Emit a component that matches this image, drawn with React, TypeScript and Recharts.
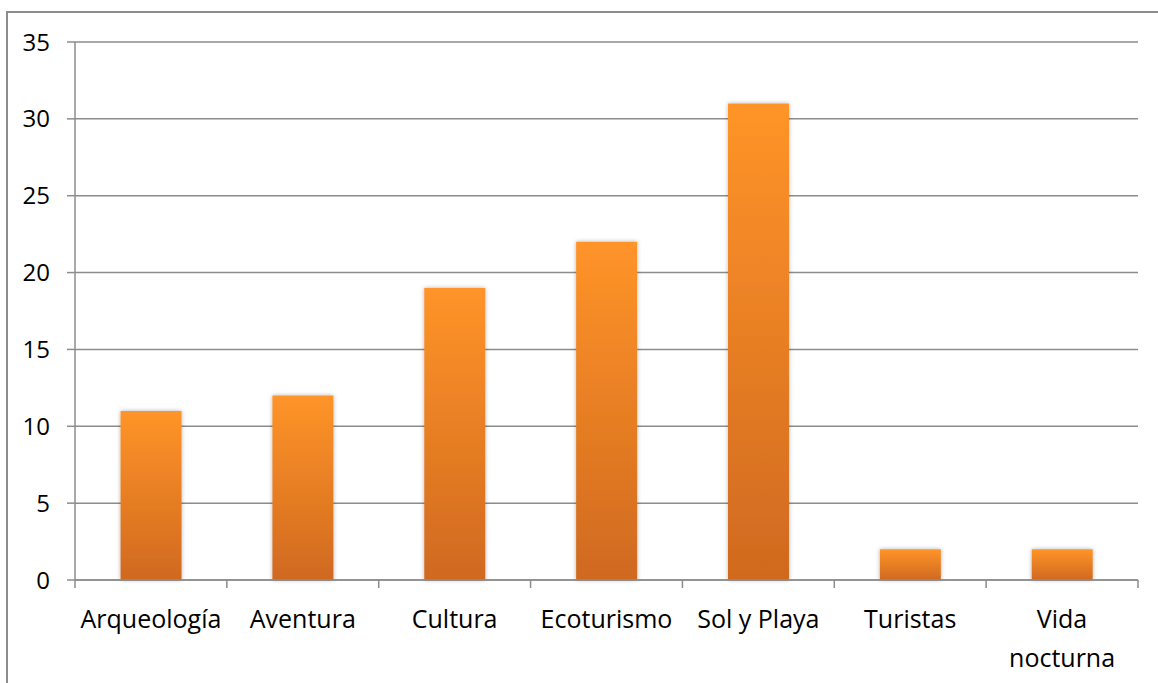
import React from "react"
import { Bar, BarChart, CartesianGrid, XAxis, YAxis } from "recharts"

const categories = ["Arqueología", "Aventura", "Cultura", "Ecoturismo", "Sol y Playa", "Turistas", "Vida nocturna"]
const values = [11, 12, 19, 22, 31, 2, 2]
const yTicks = [0, 5, 10, 15, 20, 25, 30, 35]

const data = categories.map((name, i) => ({ name, value: values[i] }))

const W = 1158
const H = 683
const LEFT = 75
const RIGHT = 20
const FONT = "'Open Sans', Lato, sans-serif"
const GRAY = "#8c8c8c"

function CategoryTick(props: any) {
  const { x, y, payload, index } = props
  const band = (W - LEFT - RIGHT) / categories.length
  const label: string = payload.value
  const lines = label.length > 12 ? label.split(" ") : [label]
  const top = y - 8
  return (
    <g>
      <line x1={x - band / 2} x2={x - band / 2} y1={top} y2={top + 8} stroke={GRAY} strokeWidth={1.5} />
      {index === categories.length - 1 && (
        <line x1={x + band / 2} x2={x + band / 2} y1={top} y2={top + 8} stroke={GRAY} strokeWidth={1.5} />
      )}
      <text x={x} y={top + 38} textAnchor="middle" dominantBaseline="central" fontFamily={FONT} fontSize={25} fill="#000">
        {lines.map((ln, i) => (
          <tspan key={i} x={x} dy={i === 0 ? 0 : 39}>{ln}</tspan>
        ))}
      </text>
    </g>
  )
}

export default function App() {
  return (
    <div style={{ position: "absolute", left: 0, top: 0, width: W, height: H, background: "#fff", overflow: "hidden" }}>
      <div style={{ position: "absolute", left: 6, top: 11, width: W, height: H, borderLeft: `2px solid ${GRAY}`, borderTop: `2px solid ${GRAY}` }} />
      <div style={{ position: "absolute", left: 0, top: 0 }}>
        <BarChart width={W} height={H} data={data} margin={{ top: 42, right: RIGHT, bottom: 0, left: 0 }} barCategoryGap="30%">
          <defs>
            <linearGradient id="barGrad" x1="0" y1="0" x2="0" y2="1">
              <stop offset="0%" stopColor="#ff9429" />
              <stop offset="100%" stopColor="#d0691f" />
            </linearGradient>
            <filter id="barShadow" x="-20%" y="-20%" width="140%" height="140%">
              <feDropShadow dx="0" dy="0" stdDeviation="2" floodColor="#000" floodOpacity="0.3" />
            </filter>
          </defs>
          <CartesianGrid vertical={false} stroke={GRAY} strokeWidth={1.5} />
          <XAxis
            dataKey="name"
            height={103}
            interval={0}
            axisLine={{ stroke: GRAY, strokeWidth: 1.5 }}
            tickLine={false}
            tickSize={8}
            tickMargin={0}
            tick={<CategoryTick />}
          />
          <YAxis
            width={LEFT}
            domain={[0, 35]}
            ticks={yTicks}
            interval={0}
            axisLine={{ stroke: GRAY, strokeWidth: 1.5 }}
            tickLine={{ stroke: GRAY, strokeWidth: 1.5 }}
            tickSize={8}
            tickMargin={17}
            tick={{ fontFamily: FONT, fontSize: 24, fill: "#000" }}
          />
          <Bar dataKey="value" fill="url(#barGrad)" filter="url(#barShadow)" isAnimationActive={false} />
        </BarChart>
      </div>
    </div>
  )
}
